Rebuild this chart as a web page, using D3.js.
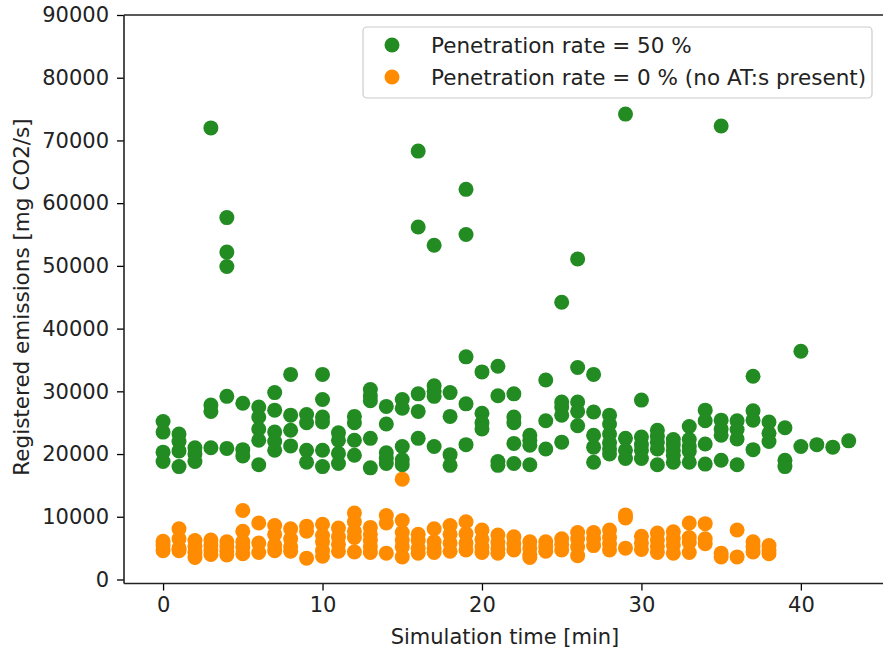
<!DOCTYPE html>
<html>
<head>
<meta charset="utf-8">
<script src="https://cdn.jsdelivr.net/npm/d3@7"></script>
<style>
  body { margin: 0; background: #fff; }
  text { font-family: "DejaVu Sans", sans-serif; }
</style>
</head>
<body>
<div id="plotarea"></div>
<script>
// emissions per simulation minute
var seriesNames = ['Penetration rate = 50 %', 'Penetration rate = 0 % (no AT:s present)'];
var seriesColors = ['#228b22', '#ff8c00'];
var xTicks = [0, 10, 20, 30, 40];
var yTicks = [0, 10000, 20000, 30000, 40000, 50000, 60000, 70000, 80000, 90000];

// index = minute
var greenByMinute = [
  [25200, 23500, 20300, 18800],
  [23200, 22000, 20500, 18000],
  [21000, 20000, 18800],
  [72000, 27800, 26800, 21000],
  [57700, 52200, 49900, 29200, 20900],
  [28100, 20700, 19700],
  [27500, 25900, 24000, 22200, 18300],
  [29800, 27000, 23500, 22000, 20600],
  [32700, 26200, 23800, 21300],
  [26300, 25000, 20600, 18700],
  [32700, 28700, 25900, 25100, 20600, 18000],
  [23400, 22200, 20100, 18500],
  [26000, 25000, 22200, 19800],
  [30300, 29300, 28500, 22500, 17800],
  [27600, 24800, 20200, 19300, 18500],
  [28700, 27300, 21200, 19100, 18300],
  [68300, 56200, 29600, 26800, 22500],
  [53300, 30900, 30000, 29200, 21200],
  [29800, 26000, 19900, 18200],
  [62200, 55000, 35500, 28000, 21500],
  [33100, 26500, 25000, 24000],
  [34000, 29300, 18800, 18200],
  [29600, 25900, 25000, 21700, 18500],
  [23000, 22200, 21400, 18300],
  [31800, 25300, 20800],
  [44200, 28300, 27500, 26200, 21900],
  [51100, 33800, 28300, 26800, 24500],
  [32700, 26700, 23000, 21100, 18700],
  [26200, 24800, 23200, 21800, 20800, 20000],
  [74200, 22500, 20600, 19300],
  [28600, 22700, 21500, 20600, 19300],
  [23800, 22800, 21900, 20800, 18300],
  [22300, 21500, 20600, 19800, 18700],
  [24400, 22300, 21200, 20400, 18700],
  [27000, 25300, 21600, 18400],
  [72300, 25400, 24000, 23000, 19000],
  [25300, 23900, 22400, 18300],
  [32400, 26900, 25400, 20700],
  [25100, 23300, 22000],
  [24200, 19000, 18000],
  [36400, 21200],
  [21500],
  [21100],
  [22100]
];

var orangeByMinute = [
  [6100, 5400, 4600],
  [8100, 6500, 5000, 4600],
  [6200, 5300, 4300, 3500],
  [6300, 5500, 4700, 4000],
  [6000, 5200, 4500, 3900],
  [11000, 7700, 6000, 5100, 4100],
  [9000, 5800, 4300],
  [8600, 7200, 5500, 4600],
  [8100, 6500, 5200, 4500],
  [8500, 7700, 3400],
  [8800, 7000, 6000, 4600, 3700],
  [8200, 6800, 5600, 4500],
  [10600, 9200, 7700, 6700, 4400],
  [8300, 7200, 6200, 5200, 4300],
  [10200, 9000, 4200],
  [16000, 9400, 7500, 6300, 5200, 3600],
  [7200, 6200, 5000, 4200],
  [8100, 6000, 5000, 4300],
  [8600, 7200, 5800, 4500],
  [9200, 7300, 5800, 4700],
  [7900, 6400, 5200, 4300],
  [7100, 5900, 4900, 4200],
  [6800, 5700, 4700],
  [6000, 5000, 4000, 3500],
  [6000, 5200, 4500],
  [6500, 5600, 4700],
  [7500, 6500, 5200, 3800],
  [7500, 6500, 5400],
  [7900, 6700, 5700, 4700],
  [10300, 9800, 5000],
  [6900, 5800, 4800],
  [7400, 6300, 5300, 4300],
  [7600, 6500, 5500, 4200],
  [9000, 6700, 5900, 4300],
  [8900, 6500, 5700],
  [4200, 3600],
  [7900, 3600],
  [6000, 5200, 4400],
  [5400, 4700, 4100]
];

function flatten(byMinute) {
  var pts = [];
  byMinute.forEach(function(vals, minute) {
    vals.forEach(function(v) { pts.push({t: minute, v: v}); });
  });
  return pts;
}

var W = 883, H = 655;
var plotLeft = 124, plotTop = 15, plotBottom = 583.5;
var fontSize = "21px";

var svg = d3.select("#plotarea").append("svg")
  .attr("width", W)
  .attr("height", H);

var x = d3.scaleLinear().domain([-2.45, 45.15]).range([plotLeft, W]);
var y = d3.scaleLinear().domain([-640, 90000]).range([plotBottom, plotTop]);

// points, green first so orange sits on top
var series = [flatten(greenByMinute), flatten(orangeByMinute)];
series.forEach(function(pts, i) {
  svg.append("g").selectAll("circle").data(pts).enter().append("circle")
    .attr("cx", function(d) { return x(d.t); })
    .attr("cy", function(d) { return y(d.v); })
    .attr("r", 7.5)
    .attr("fill", seriesColors[i]);
});

// axes
var xAxis = svg.append("g")
  .attr("transform", "translate(0," + plotBottom + ")")
  .call(d3.axisBottom(x).tickValues(xTicks).tickSize(7).tickPadding(7).tickFormat(d3.format("d")));
var yAxis = svg.append("g")
  .attr("transform", "translate(" + plotLeft + ",0)")
  .call(d3.axisLeft(y).tickValues(yTicks).tickSize(7).tickPadding(8).tickFormat(d3.format("d")));

[xAxis, yAxis].forEach(function(g) {
  g.select(".domain").remove();
  g.selectAll(".tick line").attr("stroke", "#000").attr("stroke-width", 1.3);
  g.selectAll(".tick text").style("font-family", "DejaVu Sans").style("font-size", fontSize).attr("fill", "#222");
});

// spines (the right one is cut off by the picture edge)
svg.append("line").attr("x1", plotLeft).attr("x2", plotLeft).attr("y1", plotTop).attr("y2", plotBottom)
  .attr("stroke", "#222").attr("stroke-width", 1.6);
svg.append("line").attr("x1", plotLeft).attr("x2", W).attr("y1", plotBottom).attr("y2", plotBottom)
  .attr("stroke", "#222").attr("stroke-width", 1.6);
svg.append("line").attr("x1", plotLeft).attr("x2", W).attr("y1", plotTop).attr("y2", plotTop)
  .attr("stroke", "#222").attr("stroke-width", 1.6);

// axis labels
svg.append("text")
  .attr("x", 505)
  .attr("y", 644)
  .attr("text-anchor", "middle")
  .style("font-size", fontSize)
  .attr("fill", "#222")
  .text("Simulation time [min]");

svg.append("text")
  .attr("transform", "translate(29," + 297 + ") rotate(-90)")
  .attr("text-anchor", "middle")
  .style("font-size", "21.5px")
  .attr("fill", "#222")
  .text("Registered emissions [mg CO2/s]");

// legend
var legend = svg.append("g");
legend.append("rect")
  .attr("x", 363).attr("y", 27).attr("width", 509).attr("height", 71)
  .attr("rx", 4)
  .attr("fill", "#fff").attr("fill-opacity", 0.8)
  .attr("stroke", "#ccc").attr("stroke-width", 1.2);
seriesNames.forEach(function(name, i) {
  var cy = 45 + i * 32;
  legend.append("circle").attr("cx", 392).attr("cy", cy).attr("r", 7.5).attr("fill", seriesColors[i]);
  legend.append("text").attr("x", 431).attr("y", cy).attr("dy", "0.36em")
    .style("font-size", "21.5px").attr("fill", "#222").text(name);
});
</script>
</body>
</html>
